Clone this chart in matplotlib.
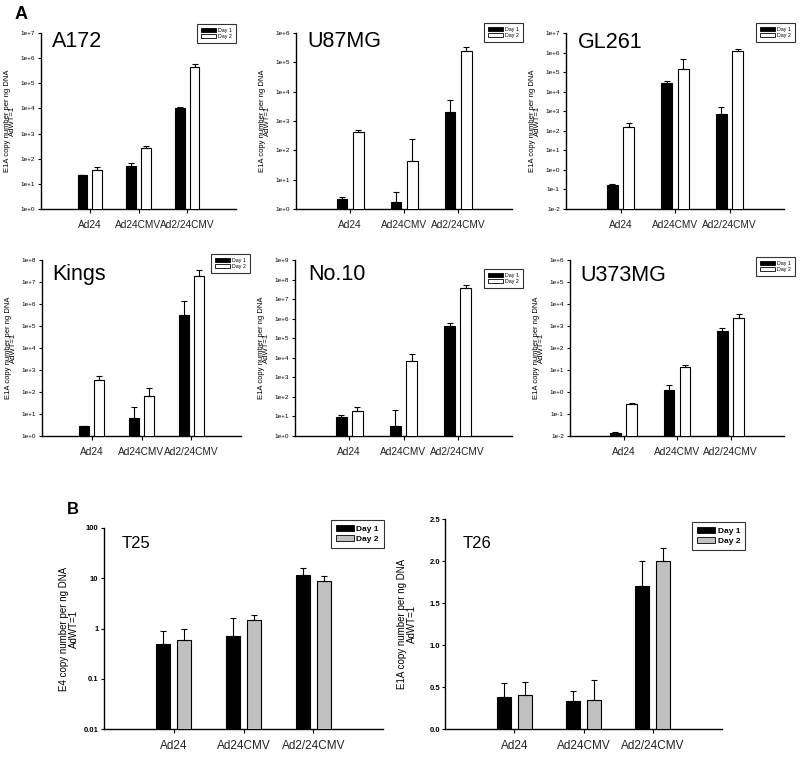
import numpy as np
import matplotlib
matplotlib.use("Agg")
import matplotlib.pyplot as plt
from matplotlib.ticker import FixedLocator, FuncFormatter, NullLocator
from matplotlib.patches import Patch

plt.rcParams['font.family'] = ['Liberation Sans', 'DejaVu Sans']

categories = ["Ad24", "Ad24CMV", "Ad2/24CMV"]
series_names = ["Day 1", "Day 2"]

# Panel A (log scale); "_up" = top of the error whisker
a172_day1 = [22, 50, 1.05e4]
a172_day1_up = [22, 65, 1.1e4]
a172_day2 = [35, 270, 4.3e5]
a172_day2_up = [45, 330, 6.0e5]

u87_day1 = [2.2, 1.8, 2000]
u87_day1_up = [2.6, 3.7, 5000]
u87_day2 = [420, 42, 2.5e5]
u87_day2_up = [500, 240, 3.3e5]

gl261_day1 = [0.17, 2.7e4, 700]
gl261_day1_up = [0.18, 3.5e4, 1600]
gl261_day2 = [150, 1.4e5, 1.15e6]
gl261_day2_up = [240, 4.6e5, 1.5e6]

kings_day1 = [3.0, 6.5, 3.3e5]
kings_day1_up = [3.0, 20, 1.4e6]
kings_day2 = [360, 65, 1.9e7]
kings_day2_up = [550, 155, 3.5e7]

no10_day1 = [9.5, 3.1, 4.0e5]
no10_day1_up = [12, 22, 6.0e5]
no10_day2 = [20, 6800, 3.6e7]
no10_day2_up = [32, 1.6e4, 5.5e7]

u373_day1 = [0.014, 1.2, 620]
u373_day1_up = [0.015, 2.1, 780]
u373_day2 = [0.29, 13.5, 2300]
u373_day2_up = [0.32, 17, 3500]

# Panel B
t25_day1 = [0.5, 0.7, 11.5]
t25_day1_up = [0.9, 1.65, 16]
t25_day2 = [0.6, 1.47, 8.7]
t25_day2_up = [1.0, 1.85, 11]

t26_day1 = [0.38, 0.33, 1.70]
t26_day1_up = [0.55, 0.45, 2.0]
t26_day2 = [0.41, 0.35, 2.0]
t26_day2_up = [0.56, 0.58, 2.15]

W, H = 800, 759
fig = plt.figure(figsize=(8, 7.59), dpi=100)


def fig_rect(x0, y0, x1, y1):
    return [x0 / W, 1 - y1 / H, (x1 - x0) / W, (y1 - y0) / H]


x = np.arange(1, len(categories) + 1)
bw = 0.2
off = 0.15


def draw_bars(ax, d1, d1u, d2, d2u, c2, lw=0.8, cap=2):
    d1 = np.array(d1, float); d2 = np.array(d2, float)
    e1 = np.array(d1u, float) - d1
    e2 = np.array(d2u, float) - d2
    ax.bar(x - off, d1, bw, color='black', edgecolor='black', linewidth=lw,
           yerr=[np.zeros_like(e1), e1], error_kw=dict(ecolor='black', elinewidth=lw, capsize=cap, capthick=lw), zorder=3)
    ax.bar(x + off, d2, bw, color=c2, edgecolor='black', linewidth=lw,
           yerr=[np.zeros_like(e2), e2], error_kw=dict(ecolor='black', elinewidth=lw, capsize=cap, capthick=lw), zorder=3)


def style_axes(ax, xfs, yfs, ypad=2):
    for s in ['top', 'right']:
        ax.spines[s].set_visible(False)
    for s in ['left', 'bottom']:
        ax.spines[s].set_linewidth(1.0)
    ax.set_xlim(0, 4)
    ax.set_xticks(x)
    ax.set_xticklabels(categories, fontsize=xfs, color='#222222')
    ax.tick_params(axis='x', length=3, width=0.8, pad=5)
    ax.tick_params(axis='y', length=2.5, width=0.8, pad=ypad, labelsize=yfs)
    ax.yaxis.set_minor_locator(NullLocator())


top_panels = [
    ("A172", (41, 33, 236, 209), (0, 7), a172_day1, a172_day1_up, a172_day2, a172_day2_up, (52, 31), (236, 24)),
    ("U87MG", (296, 33, 512, 209), (0, 6), u87_day1, u87_day1_up, u87_day2, u87_day2_up, (307, 31), (523, 23)),
    ("GL261", (566, 33, 784, 209), (-2, 7), gl261_day1, gl261_day1_up, gl261_day2, gl261_day2_up, (578, 32), (795, 23)),
    ("Kings", (42, 260, 241, 436), (0, 8), kings_day1, kings_day1_up, kings_day2, kings_day2_up, (52, 264), (250, 254)),
    ("No.10", (295, 260, 512, 436), (0, 9), no10_day1, no10_day1_up, no10_day2, no10_day2_up, (308, 264), (523, 269)),
    ("U373MG", (570, 260, 784, 436), (-2, 6), u373_day1, u373_day1_up, u373_day2, u373_day2_up, (580, 265), (795, 257)),
]

for name, rect, (lo, hi), d1, d1u, d2, d2u, tpos, lpos in top_panels:
    ax = fig.add_axes(fig_rect(*rect))
    ax.set_yscale('log')
    draw_bars(ax, d1, d1u, d2, d2u, 'white', lw=0.8, cap=2)
    ax.set_ylim(10.0 ** lo, 10.0 ** hi)
    ax.yaxis.set_major_locator(FixedLocator([10.0 ** k for k in range(lo, hi + 1)]))
    ax.yaxis.set_major_formatter(FuncFormatter(lambda v, p: "1e%+d" % int(round(np.log10(v)))))
    style_axes(ax, 7.3, 4.6)
    ax.set_ylabel("E1A copy number per ng DNA\nAdWT=1", fontsize=5.5, linespacing=0.55, labelpad=3)
    fig.text(tpos[0] / W, 1 - tpos[1] / H, name, fontsize=15.5, ha='left', va='top')
    handles = [Patch(facecolor='black', edgecolor='black', linewidth=0.6),
               Patch(facecolor='white', edgecolor='black', linewidth=0.6)]
    leg = fig.legend(handles, series_names, loc='upper right',
                     bbox_to_anchor=(lpos[0] / W, 1 - lpos[1] / H), bbox_transform=fig.transFigure,
                     fontsize=3.8, frameon=True, fancybox=False, handlelength=2.8, handleheight=0.8,
                     borderpad=0.7, labelspacing=0.25, handletextpad=0.5, borderaxespad=0)
    leg.get_frame().set_edgecolor('black')
    leg.get_frame().set_linewidth(0.8)

fig.text(15 / W, 1 - 6 / H, "A", fontsize=13, fontweight='bold', ha='left', va='top')
fig.text(67 / W, 1 - 502 / H, "B", fontsize=12, fontweight='bold', ha='left', va='top')

# Panel B: T25 (log)
ax = fig.add_axes(fig_rect(104, 528, 383, 729))
ax.set_yscale('log')
draw_bars(ax, t25_day1, t25_day1_up, t25_day2, t25_day2_up, '#c0c0c0', lw=0.8, cap=2.5)
ax.set_ylim(0.01, 100)
ax.yaxis.set_major_locator(FixedLocator([0.01, 0.1, 1, 10, 100]))
ax.yaxis.set_major_formatter(FuncFormatter(lambda v, p: ("%g" % v)))
style_axes(ax, 8.5, 5.5, ypad=1.5)
for t in ax.get_yticklabels():
    t.set_fontweight('bold')
ax.set_ylabel("E4 copy number per ng DNA\nAdWT=1", fontsize=7, linespacing=1.0, labelpad=3)
fig.text(122 / W, 1 - 536 / H, "T25", fontsize=12, ha='left', va='top')
handles = [Patch(facecolor='black', edgecolor='black', linewidth=0.6),
           Patch(facecolor='#c0c0c0', edgecolor='black', linewidth=0.6)]
leg = fig.legend(handles, series_names, loc='upper right', bbox_to_anchor=(384 / W, 1 - 520 / H),
                 bbox_transform=fig.transFigure, frameon=True, fancybox=False,
                 handlelength=2.2, handleheight=0.8, borderpad=0.6, labelspacing=0.2,
                 handletextpad=0.3, borderaxespad=0, prop={'weight': 'bold', 'size': 6})
leg.get_frame().set_edgecolor('black')
leg.get_frame().set_linewidth(0.8)

# Panel B: T26 (linear)
ax = fig.add_axes(fig_rect(445, 519, 722, 729))
draw_bars(ax, t26_day1, t26_day1_up, t26_day2, t26_day2_up, '#c0c0c0', lw=0.8, cap=2.5)
ax.set_ylim(0, 2.5)
ax.yaxis.set_major_locator(FixedLocator([0.0, 0.5, 1.0, 1.5, 2.0, 2.5]))
ax.yaxis.set_major_formatter(FuncFormatter(lambda v, p: "%.1f" % v))
style_axes(ax, 8.5, 5.5, ypad=1)
for t in ax.get_yticklabels():
    t.set_fontweight('bold')
ax.set_ylabel("E1A copy number per ng DNA\nAdWT=1", fontsize=7, linespacing=1.0, labelpad=9)
fig.text(463 / W, 1 - 536 / H, "T26", fontsize=12, ha='left', va='top')
leg = fig.legend(handles, series_names, loc='upper right', bbox_to_anchor=(745 / W, 1 - 522 / H),
                 bbox_transform=fig.transFigure, frameon=True, fancybox=False,
                 handlelength=2.2, handleheight=0.8, borderpad=0.6, labelspacing=0.2,
                 handletextpad=0.3, borderaxespad=0, prop={'weight': 'bold', 'size': 6})
leg.get_frame().set_edgecolor('black')
leg.get_frame().set_linewidth(0.8)

fig.savefig("out.png", dpi=100, facecolor='white')
